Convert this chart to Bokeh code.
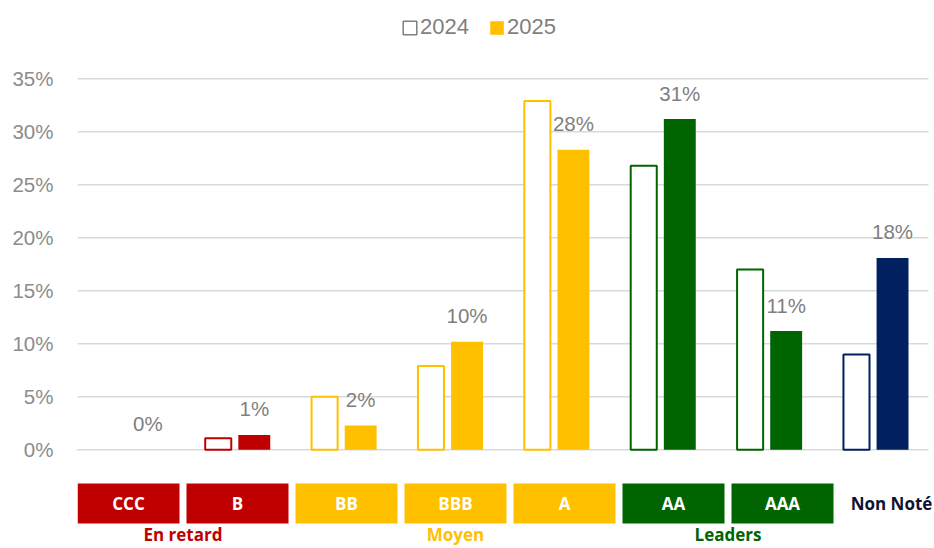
from bokeh.plotting import figure
from bokeh.models import (ColumnDataSource, Range1d, FixedTicker,
                          PrintfTickFormatter, Legend, LegendItem)
from bokeh.core.properties import value
from bokeh.embed import file_html
from bokeh.resources import INLINE

# ---- data ----
categories = ["CCC", "B", "BB", "BBB", "A", "AA", "AAA", "Non Noté"]
values_2024 = [0.0, 1.1, 5.0, 7.9, 32.9, 26.8, 17.0, 9.0]
values_2025 = [0.0, 1.4, 2.3, 10.2, 28.3, 31.2, 11.2, 18.1]
bar_colors = ["#c00000", "#c00000", "#ffc000", "#ffc000", "#ffc000",
              "#006400", "#006400", "#002060"]
y_ticks = [0, 5, 10, 15, 20, 25, 30, 35]
box_labels = ["CCC", "B", "BB", "BBB", "A", "AA", "AAA"]
box_colors = ["#c00000", "#c00000", "#ffc000", "#ffc000", "#ffc000", "#006400", "#006400"]
groups = ["En retard", "Moyen", "Leaders"]
group_spans = [(0, 1), (2, 4), (5, 6)]
group_colors = ["#c00000", "#ffc000", "#006400"]
legend_labels = ["2024", "2025"]

# ---- geometry ----
W, H = 932, 546
FRAME_L = 77
n = len(categories)
px_per_cat = 851 / n
px_per_pct = 10.6
zero_y = 449.3          # pixel row of 0% inside the figure
y_top = zero_y / px_per_pct
y_bot = -(H - zero_y) / px_per_pct

p = figure(width=W, height=H, output_backend="svg", toolbar_location=None,
           x_range=Range1d(0, (W - FRAME_L) / px_per_cat),
           y_range=Range1d(y_bot, y_top),
           x_axis_location=None, y_axis_location="left",
           min_border_left=FRAME_L, min_border_right=0,
           min_border_top=0, min_border_bottom=0)
p.outline_line_color = None
p.background_fill_color = "white"
p.border_fill_color = "white"
p.xgrid.visible = False
p.ygrid.visible = False

# horizontal gridlines across the category area
p.segment(x0=0, x1=n, y0=y_ticks, y1=y_ticks, line_color="#d9d9d9", line_width=1.5)

ax = p.yaxis[0]
ax.ticker = FixedTicker(ticks=y_ticks)
ax.formatter = PrintfTickFormatter(format="%d%%")
ax.axis_line_color = None
ax.major_tick_line_color = None
ax.minor_tick_line_color = None
ax.major_tick_out = 0
ax.major_label_standoff = 24
ax.major_label_text_font = "Liberation Sans"
ax.major_label_text_font_size = "20.5px"
ax.major_label_text_color = "#8c8c8c"

centers = [i + 0.5 for i in range(n)]
labels_2025 = [f"{round(v)}%" for v in values_2025]
src = ColumnDataSource(dict(
    x24=[c - 0.177 for c in centers], x25=[c + 0.162 for c in centers],
    v24=values_2024, v25=values_2025, color=bar_colors, lab=labels_2025,
    a24=[0 if v == 0 else 1 for v in values_2024],
    a25=[0 if v == 0 else 1 for v in values_2025]))

p.vbar(x="x24", top="v24", bottom=0, width=0.245, source=src,
       fill_color="white", line_color="color", line_width=2, line_alpha="a24")
p.vbar(x="x25", top="v25", bottom=0, width=0.30, source=src,
       fill_color="color", line_color=None, fill_alpha="a25")
p.text(x="x25", y="v25", text="lab", source=src,
       text_align="center", text_baseline="alphabetic", y_offset=-26,
       text_font=value("Liberation Sans"), text_font_size="20.5px",
       text_color="#7f7f7f")

# ---- rating boxes (slightly wider pitch than the bar groups) ----
box_pitch = 109.0 / px_per_cat
box_first = 51.0 / px_per_cat
def box_pos(i):
    return box_first + i * box_pitch

box_top = -(483 - zero_y) / px_per_pct
box_bottom = -(523 - zero_y) / px_per_pct
box_mid = (box_top + box_bottom) / 2
bsrc = ColumnDataSource(dict(x=[box_pos(i) for i in range(len(box_labels))],
                             lab=box_labels, color=box_colors))
p.vbar(x="x", top=box_top, bottom=box_bottom, width=102 / px_per_cat, source=bsrc,
       fill_color="color", line_color=None)
p.text(x="x", y=box_mid, text="lab", source=bsrc,
       text_align="center", text_baseline="middle",
       text_font=value("Open Sans"), text_font_style="bold",
       text_font_size="17px", text_color="white")
p.text(x=[box_pos(n - 1)], y=[box_mid], text=[categories[-1]],
       text_align="center", text_baseline="middle",
       text_font=value("Open Sans"), text_font_style="bold",
       text_font_size="17px", text_color="#111133")

gsrc = ColumnDataSource(dict(x=[(box_pos(a) + box_pos(b)) / 2 for a, b in group_spans],
                             lab=groups, color=group_colors))
p.text(x="x", y=y_bot + 0.05, text="lab", source=gsrc,
       text_align="center", text_baseline="bottom",
       text_font=value("Open Sans"), text_font_style="bold",
       text_font_size="17px", text_color="color")

# ---- legend (proxy renderers placed outside the visible range) ----
proxy = ColumnDataSource(dict(x=[-5.0], top=[0.0]))
r24 = p.vbar(x="x", top="top", width=0.1, source=proxy, fill_color="white",
             line_color="#7f7f7f", line_width=1.5)
r25 = p.vbar(x="x", top="top", width=0.1, source=proxy, fill_color="#ffc000",
             line_color=None)
leg = Legend(items=[LegendItem(label=legend_labels[0], renderers=[r24]),
                    LegendItem(label=legend_labels[1], renderers=[r25])],
             orientation="horizontal", location=(324, H - 40),
             glyph_width=17, glyph_height=17, label_standoff=2, spacing=19,
             padding=0, margin=0, border_line_color=None,
             background_fill_alpha=0,
             label_text_font="Liberation Sans", label_text_font_size="22px",
             label_text_color="#7f7f7f")
p.add_layout(leg, "center")

open("out.html", "w").write(file_html(p, INLINE))
